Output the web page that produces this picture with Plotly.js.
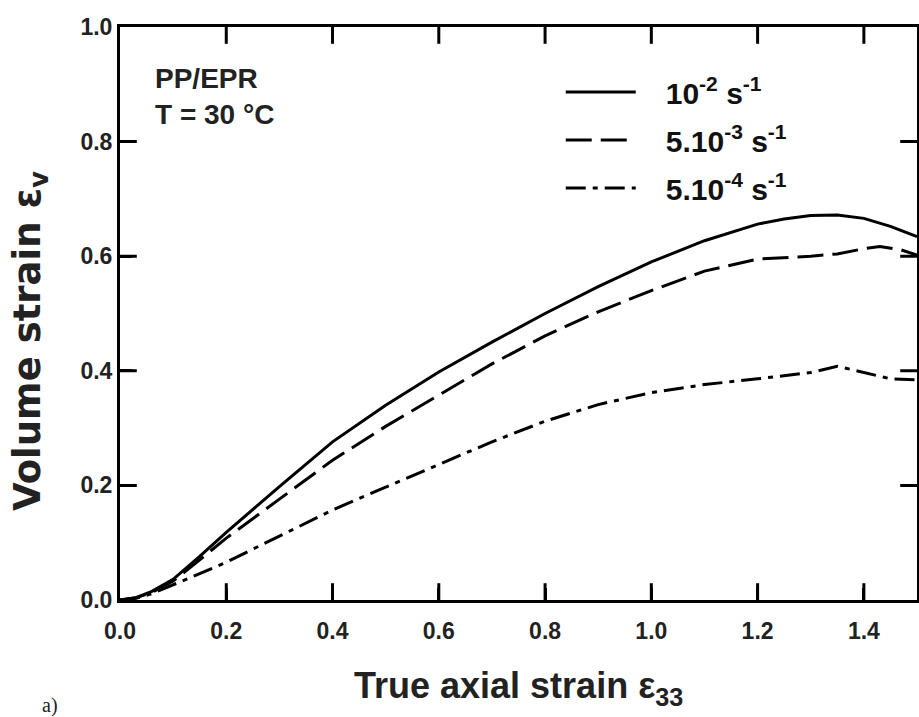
<!DOCTYPE html>
<html>
<head>
<meta charset="utf-8">
<script src="https://cdn.plot.ly/plotly-3.0.1.min.js"></script>
<style>
  html, body { margin: 0; padding: 0; background: #fff; }
  #chart { width: 919px; height: 717px; }
</style>
</head>
<body>
<div id="chart"></div>
<script>
// ---- Data ----
const NB = "\u00a0\u00a0\u00a0";
const seriesNames = [NB + "10<sup>-2</sup> s<sup>-1</sup>", NB + "5.10<sup>-3</sup> s<sup>-1</sup>", NB + "5.10<sup>-4</sup> s<sup>-1</sup>"];

const strainFast = [0, 0.03, 0.06, 0.1, 0.15, 0.2, 0.3, 0.4, 0.5, 0.6, 0.7, 0.8, 0.9, 1.0, 1.1, 1.2, 1.25, 1.3, 1.35, 1.4, 1.45, 1.5];
const volFast    = [0, 0.004, 0.015, 0.036, 0.076, 0.118, 0.198, 0.276, 0.340, 0.398, 0.450, 0.500, 0.547, 0.590, 0.627, 0.656, 0.665, 0.671, 0.672, 0.666, 0.652, 0.634];

const strainMid  = [0, 0.03, 0.06, 0.1, 0.15, 0.2, 0.3, 0.4, 0.5, 0.6, 0.7, 0.8, 0.9, 1.0, 1.1, 1.2, 1.3, 1.35, 1.4, 1.43, 1.47, 1.5];
const volMid     = [0, 0.004, 0.013, 0.033, 0.070, 0.108, 0.176, 0.244, 0.303, 0.358, 0.412, 0.461, 0.503, 0.540, 0.574, 0.595, 0.600, 0.604, 0.613, 0.617, 0.611, 0.602];

const strainSlow = [0, 0.03, 0.06, 0.1, 0.15, 0.2, 0.3, 0.4, 0.5, 0.6, 0.7, 0.8, 0.9, 1.0, 1.1, 1.2, 1.3, 1.35, 1.4, 1.45, 1.5];
const volSlow    = [0, 0.003, 0.011, 0.026, 0.046, 0.066, 0.112, 0.157, 0.197, 0.236, 0.276, 0.312, 0.341, 0.362, 0.376, 0.386, 0.397, 0.408, 0.397, 0.386, 0.384];

const xRange = [0, 1.5];
const yRange = [0, 1.0];
const xTickStep = 0.2;
const yTickStep = 0.2;
const xInnerTicks = [0.2, 0.4, 0.6, 0.8, 1.0, 1.2, 1.4];
const yInnerTicks = [0.2, 0.4, 0.6, 0.8];

const FONT = "Liberation Sans, Arial, Helvetica, sans-serif";

const traces = [
  { x: strainFast, y: volFast, name: seriesNames[0], legendgroup: "a", mode: "lines",
    line: { color: "#000", width: 3, dash: "solid" } },
  { x: strainMid, y: volMid, name: seriesNames[1], legendgroup: "b", mode: "lines",
    line: { color: "#000", width: 3, dash: "26px,9px" } },
  { x: strainSlow, y: volSlow, name: seriesNames[2], legendgroup: "c", mode: "lines",
    line: { color: "#000", width: 3, dash: "20px,7px,5px,7px" } }
];

// Inward tick marks on all four frame sides (half of each marker is clipped by the plot area)
function tickTrace(xs, ys, symbol) {
  return { x: xs, y: ys, mode: "markers", showlegend: false, hoverinfo: "skip", cliponaxis: true,
    marker: { symbol: symbol, size: 24, color: "#000", line: { color: "#000", width: 3 } } };
}
traces.push(tickTrace(xInnerTicks, xInnerTicks.map(function () { return yRange[0]; }), "line-ns"));
traces.push(tickTrace(xInnerTicks, xInnerTicks.map(function () { return yRange[1]; }), "line-ns"));
traces.push(tickTrace(yInnerTicks.map(function () { return xRange[0]; }), yInnerTicks, "line-ew"));
traces.push(tickTrace(yInnerTicks.map(function () { return xRange[1]; }), yInnerTicks, "line-ew"));

const axisStyle = {
  ticks: "inside", ticklen: 12, tickwidth: 3, tickcolor: "black",
  showline: true, linecolor: "black", linewidth: 3, mirror: true,
  showgrid: false, zeroline: false, tick0: 0, tickformat: ".1f"
};

const layout = {
  width: 919, height: 717,
  margin: { l: 120, r: 2, t: 27, b: 117 },
  showlegend: true,
  legend: {
    x: 0.553, y: 0.932, xanchor: "left", yanchor: "top",
    bgcolor: "rgba(0,0,0,0)", borderwidth: 0,
    itemwidth: 70, tracegroupgap: 6,
    font: { family: FONT, size: 30, color: "#111", weight: 700 }
  },
  xaxis: Object.assign({}, axisStyle, {
    range: xRange, dtick: xTickStep, ticklabelstandoff: 8,
    tickfont: { family: FONT, size: 23, color: "#222", weight: 700 }
  }),
  yaxis: Object.assign({}, axisStyle, {
    range: yRange, dtick: yTickStep,
    tickfont: { family: FONT, size: 23, color: "#222", weight: 700 }
  }),
  annotations: [
    { text: "True axial strain ε<sub>33</sub>", xref: "paper", yref: "paper",
      x: 0.5, y: -0.1536, xanchor: "center", yanchor: "middle", showarrow: false,
      font: { family: FONT, size: 36, color: "#222", weight: 700 } },
    { text: "Volume strain ε<sub>v</sub>", xref: "paper", yref: "paper",
      x: -0.113, y: 0.452, xanchor: "center", yanchor: "middle", showarrow: false,
      textangle: -90,
      font: { family: "DejaVu Sans, " + FONT, size: 37, color: "#222", weight: 700 } },
    { text: "PP/EPR<br>T = 30 °C", xref: "paper", yref: "paper",
      x: 0.042, y: 0.94, xanchor: "left", yanchor: "top", align: "left", showarrow: false,
      font: { family: FONT, size: 28, color: "#222", weight: 700 } },
    { text: "a)", xref: "paper", yref: "paper",
      x: -0.088, y: -0.184, xanchor: "center", yanchor: "middle", showarrow: false,
      font: { family: "Liberation Serif, serif", size: 20, color: "#222" } }
  ]
};

Plotly.newPlot("chart", traces, layout, { displayModeBar: false });
</script>
</body>
</html>
